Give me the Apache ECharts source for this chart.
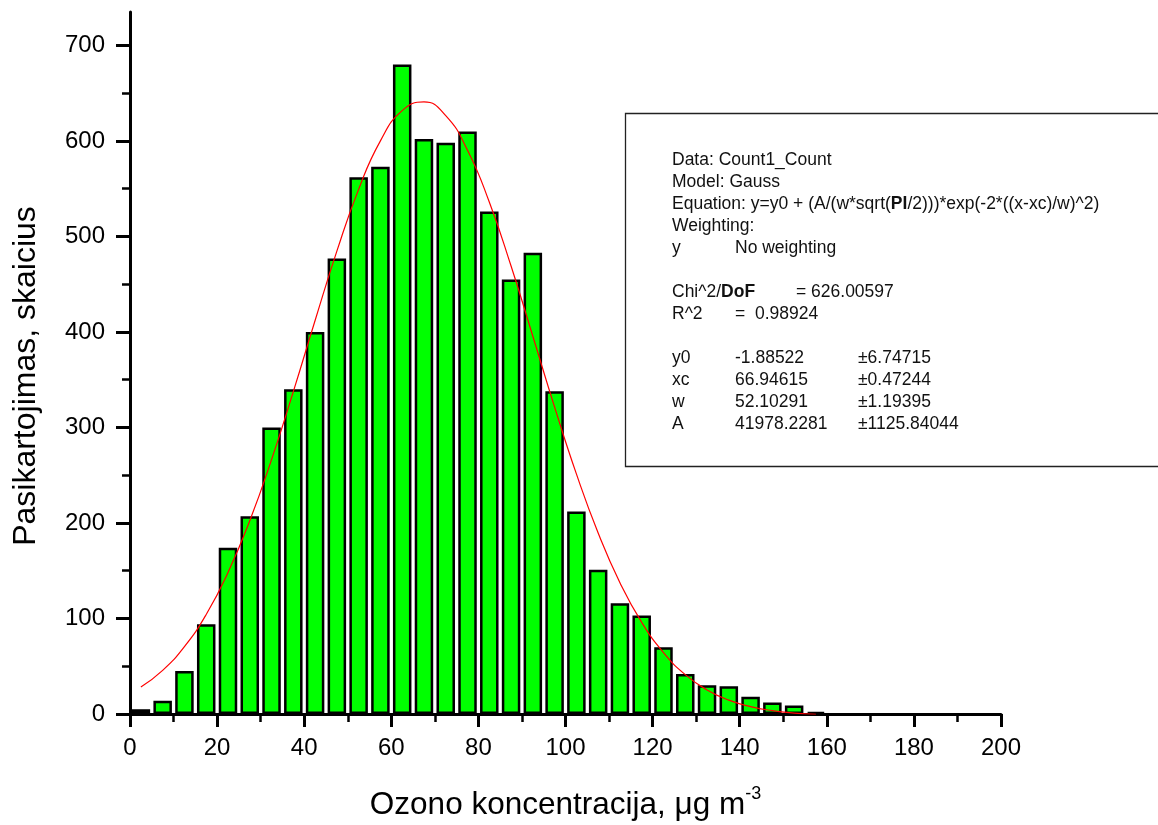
<!DOCTYPE html>
<html>
<head>
<meta charset="utf-8">
<script src="https://cdn.jsdelivr.net/npm/echarts@6/dist/echarts.min.js"></script>
<style>
  html, body { margin: 0; padding: 0; background: #fff; }
  #main { width: 1158px; height: 825px; }
</style>
</head>
<body>
<div id="main"></div>
<script>
// histogramos intervalu centrai (5 ug/m3 plocio)
var binCenters = [2.5, 7.5, 12.5, 17.5, 22.5, 27.5, 32.5, 37.5, 42.5, 47.5,
    52.5, 57.5, 62.5, 67.5, 72.5, 77.5, 82.5, 87.5, 92.5, 97.5,
    102.5, 107.5, 112.5, 117.5, 122.5, 127.5, 132.5, 137.5, 142.5, 147.5,
    152.5, 157.5];
var counts = [5, 14, 45, 94, 174, 207, 300, 340, 400, 477,
    562, 573, 680, 602, 598, 610, 526, 455, 483, 338,
    212, 151, 116, 103, 70, 42, 30, 29, 18, 12,
    9, 2];
// Gauss kreive (nuskaityta ties intervalu centrais)
var fitValues = [28.3, 45.7, 70.5, 104.2, 148.1, 202.4, 266.3, 337.5, 412.0, 484.6,
    549.3, 600.1, 631.7, 640.8, 626.5, 590.3, 536.0, 469.0, 395.5, 321.3,
    251.4, 189.5, 137.5, 95.9, 64.3, 41.2, 25.2, 14.5, 7.7, 3.5,
    1.0, -0.4];
var yMajorTicks = [0, 100, 200, 300, 400, 500, 600, 700];
var yMinorTicks = [50, 150, 250, 350, 450, 550, 650];

// teksto langelis
var statLines = [
    { y: 160, cols: [[672, 'Data: Count1_Count']] },
    { y: 182, cols: [[672, 'Model: Gauss']] },
    { y: 204, cols: [[672, 'Equation: y=y0 + (A/(w*sqrt({b|PI}/2)))*exp(-2*((x-xc)/w)^2)']] },
    { y: 226, cols: [[672, 'Weighting:']] },
    { y: 248, cols: [[672, 'y'], [735, 'No weighting']] },
    { y: 292, cols: [[672, 'Chi^2/{b|DoF}'], [796, '= 626.00597']] },
    { y: 314, cols: [[672, 'R^2'], [735, '=  0.98924']] },
    { y: 358, cols: [[672, 'y0'], [735, '-1.88522'], [858, '\u00b16.74715']] },
    { y: 380, cols: [[672, 'xc'], [735, '66.94615'], [858, '\u00b10.47244']] },
    { y: 402, cols: [[672, 'w'], [735, '52.10291'], [858, '\u00b11.19395']] },
    { y: 424, cols: [[672, 'A'], [735, '41978.2281'], [858, '\u00b11125.84044']] }
];

var FONT = '"Liberation Sans", Arial, sans-serif';

var graphics = [{
    type: 'rect',
    shape: { x: 625.5, y: 113.5, width: 560, height: 353 },
    style: { fill: 'none', stroke: '#222', lineWidth: 1.3 },
    z: 10
}];
statLines.forEach(function (line) {
    line.cols.forEach(function (c) {
        graphics.push({
            type: 'text',
            x: c[0], y: line.y,
            style: {
                text: c[1],
                fontFamily: FONT, fontSize: 17.5, fill: '#111',
                verticalAlign: 'middle', align: 'left',
                rich: { b: { fontFamily: FONT, fontSize: 17.5, fontWeight: 'bold', fill: '#111' } }
            },
            z: 11
        });
    });
});

var myChart = echarts.init(document.getElementById('main'));
myChart.setOption({
    animation: false,
    backgroundColor: '#fff',
    grid: { left: 130, right: 157, top: 12, bottom: 111, outerBoundsMode: 'none' },
    xAxis: {
        type: 'value', min: 0, max: 200, interval: 20,
        name: 'Ozono koncentracija, \u03bcg m{sup|-3}',
        nameLocation: 'middle', nameGap: 71,
        nameTextStyle: {
            fontFamily: FONT, fontSize: 31.5, color: '#000',
            rich: { sup: { fontFamily: FONT, fontSize: 18, color: '#000', padding: [0, 0, 22, 0] } }
        },
        axisLine: { onZero: false, lineStyle: { color: '#000', width: 3 } },
        axisTick: { length: 13, lineStyle: { color: '#000', width: 3 } },
        minorTick: { show: true, splitNumber: 2, length: 8, lineStyle: { color: '#000', width: 2.5 } },
        axisLabel: { margin: 22, fontFamily: FONT, fontSize: 24, color: '#000' },
        splitLine: { show: false }
    },
    yAxis: [{
        type: 'value', min: 0, max: 735,
        name: 'Pasikartojimas, skaicius',
        nameLocation: 'middle', nameGap: 88, nameRotate: 90,
        nameTextStyle: { fontFamily: FONT, fontSize: 32, color: '#000', padding: [0, 26, 0, 0] },
        axisLine: { lineStyle: { color: '#000', width: 3 } },
        axisTick: { customValues: yMajorTicks, length: 14, lineStyle: { color: '#000', width: 3 } },
        axisLabel: { customValues: yMajorTicks, margin: 25, fontFamily: FONT, fontSize: 24, color: '#000' },
        splitLine: { show: false }
    }, {
        type: 'value', min: 0, max: 735, position: 'left',
        axisLine: { show: false },
        axisTick: { show: true, customValues: yMinorTicks, length: 8, lineStyle: { color: '#000', width: 2.5 } },
        axisLabel: { show: false },
        splitLine: { show: false }
    }],
    series: [{
        type: 'bar',
        data: binCenters.map(function (x, i) { return [x, counts[i]]; }),
        barWidth: 18.5,
        itemStyle: { color: '#00ff00', borderColor: '#000', borderWidth: 2.5 },
        z: 2
    }, {
        type: 'line',
        data: binCenters.map(function (x, i) { return [x, fitValues[i]]; }),
        smooth: true,
        symbol: 'none',
        lineStyle: { color: '#ff0000', width: 1.2 },
        z: 3
    }],
    graphic: graphics
});
</script>
</body>
</html>
